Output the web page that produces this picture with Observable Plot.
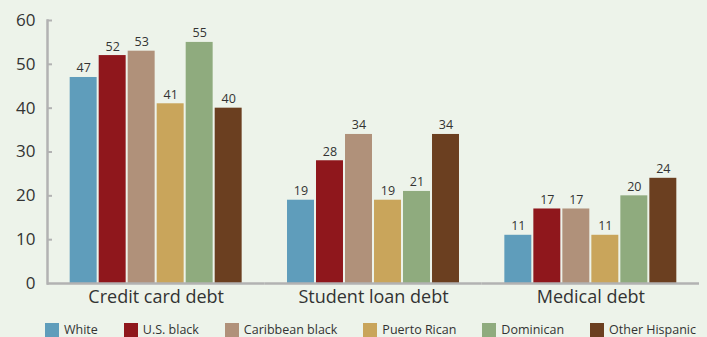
<!DOCTYPE html>
<html><head><meta charset="utf-8">
<script src="https://cdn.jsdelivr.net/npm/d3@7"></script>
<script src="https://cdn.jsdelivr.net/npm/@observablehq/plot@0.6"></script>
<style>
html,body{margin:0;padding:0;background:#edf3ea;}
body{font-family:"Open Sans",Lato,sans-serif;}
#chart{width:707px;height:337px;position:relative;overflow:hidden;background:#edf3ea}
#chart svg{display:block}
.legend{display:flex;justify-content:space-between;margin-left:45px;width:651px;height:21px;align-items:flex-end;font-size:12.5px;color:#333;line-height:14px}
.item{display:flex;align-items:center;gap:5px}
.sw{width:14px;height:14px;flex:none}
</style></head><body><div id="chart"></div>
<script>
const debts = ["Credit card debt", "Student loan debt", "Medical debt"];
const groups = ["White", "U.S. black", "Caribbean black", "Puerto Rican", "Dominican", "Other Hispanic"];
const colors = ["#5f9dbb", "#8f171c", "#b0917a", "#c9a55b", "#8fab7e", "#6b3f20"];
const creditCard = [47, 52, 53, 41, 55, 40];
const studentLoan = [19, 28, 34, 19, 21, 34];
const medical = [11, 17, 17, 11, 20, 24];
const yTicks = [0, 10, 20, 30, 40, 50, 60];

const series = [creditCard, studentLoan, medical];
const data = [];
debts.forEach((debt, i) => groups.forEach((group, j) => data.push({debt, group, value: series[i][j]})));

const W = 707, H = 316, ML = 47, MR = 8, MT = 20, MB = 33;
const facetW = (W - ML - MR) / debts.length;
const axisColor = "#b2b2b2";
const font = "'Open Sans', Lato, sans-serif";

const chart = Plot.plot({
  width: W, height: H,
  marginLeft: ML, marginRight: MR, marginTop: MT, marginBottom: MB,
  style: {background: "transparent", fontFamily: font, color: "#333", overflow: "visible"},
  fx: {domain: debts, padding: 0, round: false, label: null},
  x: {domain: groups, paddingInner: 0.07, paddingOuter: 0.782, round: false, axis: null},
  y: {domain: [0, 60], label: null},
  color: {domain: groups, range: colors},
  marks: [
    Plot.barY(data, {fx: "debt", x: "group", y: "value", fill: "group"}),
    Plot.text(data, {fx: "debt", x: "group", y: "value", text: d => String(d.value), lineAnchor: "bottom", dy: -5, fontSize: 12.5, fill: "#333"}),
    Plot.frame({anchor: "left", facetAnchor: "left", stroke: axisColor, strokeWidth: 2.5}),
    Plot.tickY(yTicks.slice(1), {y: d => d, facetAnchor: "left", insetRight: facetW - 5, stroke: axisColor, strokeWidth: 2}),
    Plot.ruleY([0], {stroke: axisColor, strokeWidth: 2.5}),
    Plot.axisY(yTicks, {tickSize: 0, tickPadding: 12, fontSize: 17, fill: "#333", label: null}),
    Plot.axisFx({anchor: "bottom", tickSize: 0, tickPadding: 7, fontSize: 18, fill: "#333", label: null})
  ]
});
const root = document.getElementById("chart");
root.appendChild(chart);

const legend = document.createElement("div");
legend.className = "legend";
groups.forEach((g, i) => {
  const item = document.createElement("div");
  item.className = "item";
  const sw = document.createElement("span");
  sw.className = "sw";
  sw.style.background = colors[i];
  const lab = document.createElement("span");
  lab.textContent = g;
  item.appendChild(sw);
  item.appendChild(lab);
  legend.appendChild(item);
});
root.appendChild(legend);
</script>
</body></html>
